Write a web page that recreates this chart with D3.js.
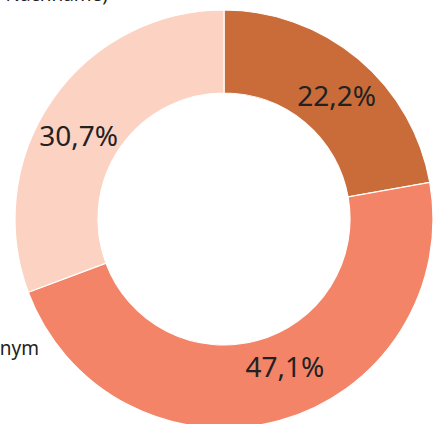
<!DOCTYPE html>
<html>
<head>
  <style>
  body {
    margin: 0;
    overflow: hidden;
    font-family: "Noto Sans", sans-serif;
    background: #fff;
  }
  .pct {
    font-size: 28px;
    fill: #222;
  }
  .side {
    font-size: 19px;
    fill: #222;
  }
  </style>
</head>
<body>
  <div id="chart"></div>
  <script src="https://cdn.jsdelivr.net/npm/d3@7"></script>
  <script>
  var categories = ["Klarname", "Pseudonym", "Klarname (Vor- und Nachname)"];
  var shares = [22.2, 47.1, 30.7];
  var colors = ["#c96c3a", "#f48468", "#fcd3c2"];
  var sideLabels = ["Klarname (Vor- und Nachname)", "Pseudonym"];

  var width = 444, height = 424;
  var cx = 224, cy = 219;
  var outer = 209, inner = 126;

  // small shifts so the value labels sit where the original placed them
  var labelNudge = [[6, 4], [17, -12], [-9, 12]];

  var svg = d3.select("#chart").append("svg")
      .attr("width", width)
      .attr("height", height);

  var g = svg.append("g")
      .attr("transform", "translate(" + cx + "," + cy + ")");

  var pie = d3.pie().sort(null).value(function(d){ return d; });
  var arc = d3.arc().innerRadius(inner).outerRadius(outer);
  var labelArc = d3.arc().innerRadius(166).outerRadius(166);

  var arcs = pie(shares);

  g.selectAll("path")
      .data(arcs)
    .enter().append("path")
      .attr("d", arc)
      .style("fill", function(d, i){ return colors[i]; })
      .style("stroke", "#fff")
      .style("stroke-width", 1.2);

  var fmt = function(v){ return d3.format(".1f")(v).replace(".", ",") + "%"; };

  g.selectAll("text.pct")
      .data(arcs)
    .enter().append("text")
      .attr("class", "pct")
      .attr("transform", function(d, i){
        var c = labelArc.centroid(d);
        return "translate(" + (c[0] + labelNudge[i][0]) + "," + (c[1] + labelNudge[i][1]) + ")";
      })
      .attr("text-anchor", "middle")
      .attr("dy", "0.36em")
      .text(function(d){ return fmt(d.data); });

  // category labels beside the ring (mostly cut off by the frame)
  svg.append("text")
      .attr("class", "side")
      .attr("x", 108)
      .attr("y", 1)
      .attr("text-anchor", "end")
      .text(sideLabels[0]);

  svg.append("text")
      .attr("class", "side")
      .attr("x", 39)
      .attr("y", 355)
      .attr("text-anchor", "end")
      .text(sideLabels[1]);
  </script>
</body>
</html>
